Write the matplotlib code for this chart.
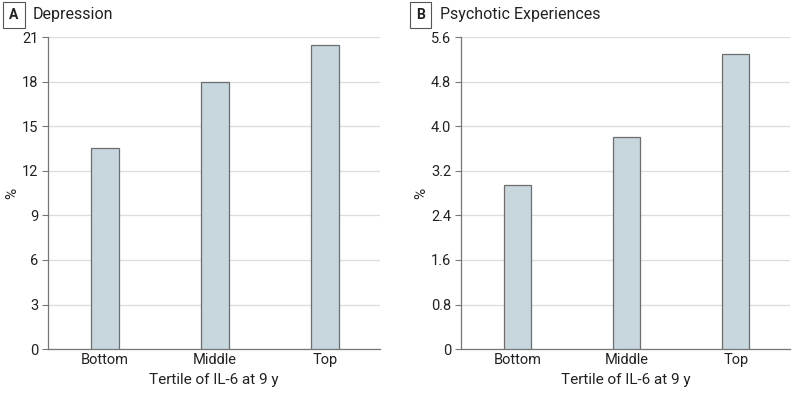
import matplotlib

matplotlib.use("Agg")

import matplotlib.pyplot as plt
import numpy as np

plt.rcParams["font.family"] = ["Roboto", "DejaVu Sans"]

INK = "#222222"
GRID = "#dcdcdc"
SPINE = "#777777"
BAR = "#c8d6de"
BAR_EDGE = "#6e6e6e"

tertiles = ["Bottom", "Middle", "Top"]
depression = [13.55, 18.0, 20.45]
psychotic = [2.94, 3.80, 5.30]
depression_ticks = [0, 3, 6, 9, 12, 15, 18, 21]
depression_labels = ["0", "3", "6", "9", "12", "15", "18", "21"]
psychotic_ticks = [0, 0.8, 1.6, 2.4, 3.2, 4.0, 4.8, 5.6]
psychotic_labels = ["0", "0.8", "1.6", "2.4", "3.2", "4.0", "4.8", "5.6"]

fig = plt.figure(figsize=(8.0, 3.94), dpi=100)

panels = [
    ("A", "Depression", depression, depression_ticks, depression_labels,
     [0.060, 0.114, 0.415, 0.792], 0.0175, 0.041),
    ("B", "Psychotic Experiences", psychotic, psychotic_ticks, psychotic_labels,
     [0.576, 0.114, 0.412, 0.792], 0.526, 0.550),
]

for letter, title, values, ticks, labels, rect, box_x, title_x in panels:
    ax = fig.add_axes(rect)
    x = np.arange(len(tertiles))
    ax.bar(x, values, width=0.25, color=BAR, edgecolor=BAR_EDGE, linewidth=0.9, zorder=3)
    ax.set_xlim(-0.52, 2.5)
    ax.set_ylim(0, ticks[-1])
    ax.set_yticks(ticks)
    ax.set_yticklabels(labels)
    ax.set_xticks(x)
    ax.set_xticklabels(tertiles)
    ax.grid(axis="y", color=GRID, linewidth=0.9, zorder=0)
    ax.set_axisbelow(True)
    for side in ("top", "right"):
        ax.spines[side].set_visible(False)
    for side in ("left", "bottom"):
        ax.spines[side].set_color(SPINE)
        ax.spines[side].set_linewidth(0.9)
    ax.tick_params(axis="y", length=4, color=SPINE, labelsize=10.5, labelcolor=INK, pad=3)
    ax.tick_params(axis="x", length=0, labelsize=10.5, labelcolor=INK, pad=3)
    ax.set_xlabel("Tertile of IL-6 at 9 y", fontsize=11, color=INK, labelpad=4)
    ax.set_ylabel("%", fontsize=11, color=INK, labelpad=2)

    fig.text(box_x, 0.962, letter, fontsize=10, fontweight="bold", color=INK,
             ha="center", va="center",
             bbox=dict(boxstyle="square,pad=0.45", facecolor="white", edgecolor="#555555", linewidth=0.8))
    fig.text(title_x, 0.962, title, fontsize=11.5, color=INK, ha="left", va="center")

fig.savefig("out.png", dpi=100, facecolor="white")
